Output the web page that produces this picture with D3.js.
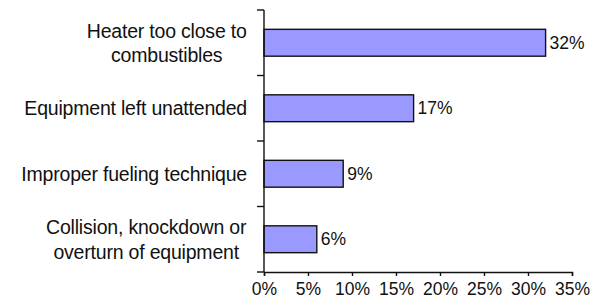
<!DOCTYPE html>
<html>
<head>
<meta charset="utf-8">
<script src="https://cdn.jsdelivr.net/npm/d3@7"></script>
<style>
  html, body { margin: 0; padding: 0; background: #fff; }
  svg { display: block; }
  text { font-family: "Liberation Sans", Arial, sans-serif; fill: #111; }
</style>
</head>
<body>
<svg id="chart" width="597" height="303"></svg>
<script>
const categories = [
  ["Heater too close to", "combustibles"],
  ["Equipment left unattended"],
  ["Improper fueling technique"],
  ["Collision, knockdown or", "overturn of equipment"]
];
const values = [32, 17, 9, 6];
const tickValues = [0, 5, 10, 15, 20, 25, 30, 35];

const svg = d3.select("#chart");
const x = d3.scaleLinear().domain([0, 35]).range([264, 572]);
const y = d3.scaleBand().domain(d3.range(categories.length)).range([10, 272])
  .paddingInner(0.59).paddingOuter(0.295);

// bars
svg.selectAll("rect.bar").data(values).join("rect")
  .attr("class", "bar")
  .attr("x", x(0))
  .attr("y", (d, i) => y(i))
  .attr("width", d => x(d) - x(0))
  .attr("height", y.bandwidth())
  .attr("fill", "#9999FF")
  .attr("stroke", "#111")
  .attr("stroke-width", 1.4);

// value labels
svg.selectAll("text.val").data(values).join("text")
  .attr("class", "val")
  .attr("x", d => x(d) + 4)
  .attr("y", (d, i) => y(i) + y.bandwidth() / 2 + 6)
  .attr("font-size", 17.5)
  .text(d => d + "%");

// y axis line + ticks at band boundaries
const axisColor = "#111";
svg.append("line")
  .attr("x1", x(0)).attr("x2", x(0)).attr("y1", 10).attr("y2", 272)
  .attr("stroke", axisColor).attr("stroke-width", 1.4);
const boundaries = d3.range(categories.length + 1).map(i => 10 + i * y.step());
svg.selectAll("line.ytick").data(boundaries).join("line")
  .attr("class", "ytick")
  .attr("x1", x(0) - 7).attr("x2", x(0)).attr("y1", d => d).attr("y2", d => d)
  .attr("stroke", axisColor).attr("stroke-width", 1.4);

// x axis
const xAxis = d3.axisBottom(x).tickValues(tickValues).tickSize(4).tickPadding(7)
  .tickFormat(d => d + "%");
const gx = svg.append("g").attr("transform", "translate(0,272)").call(xAxis);
gx.select(".domain").attr("stroke", axisColor).attr("stroke-width", 1.4);
gx.selectAll(".tick line").attr("stroke", axisColor).attr("stroke-width", 1.4);
gx.selectAll(".tick text")
  .attr("font-family", "Liberation Sans, Arial, sans-serif")
  .attr("font-size", 17.5).attr("fill", "#111").attr("dy", "0.71em");

// category labels (multi-line centered, block right-aligned)
const rightEdge = 247;
const lineH = 24.5;
categories.forEach((lines, i) => {
  const cy = y(i) + y.bandwidth() / 2;
  const g = svg.append("g");
  lines.forEach((ln, j) => {
    g.append("text")
      .attr("text-anchor", "middle")
      .attr("x", 0)
      .attr("y", cy + (j - (lines.length - 1) / 2) * lineH + 7)
      .attr("font-size", 19.5)
      .attr("letter-spacing", "-0.2")
      .text(ln);
  });
  const bb = g.node().getBBox();
  g.attr("transform", `translate(${rightEdge - (bb.x + bb.width)},0)`);
});
</script>
</body>
</html>
